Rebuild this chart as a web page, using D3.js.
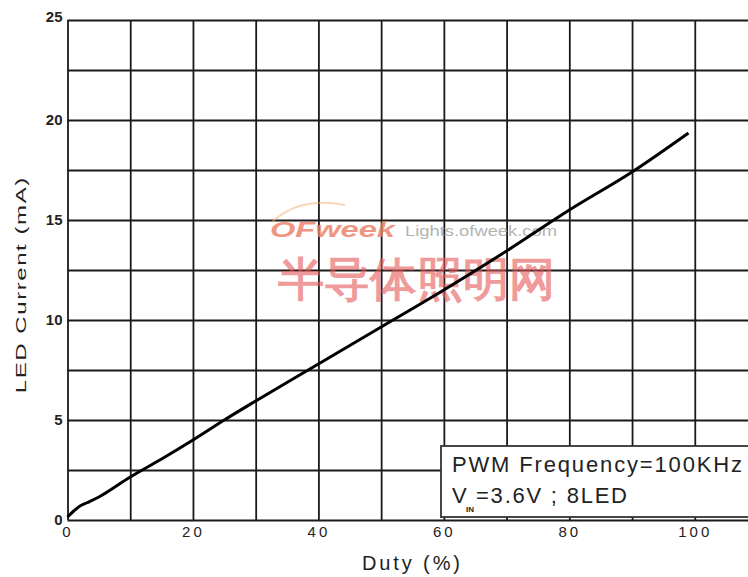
<!DOCTYPE html>
<html lang="en">
<head>
<meta charset="UTF-8">
<title>LED Current vs Duty</title>
<style>
  body { margin: 0; background: #fff; }
  svg { display: block; }
  text { font-family: Arial, "Liberation Sans", sans-serif; fill: #222; }
</style>
</head>
<body>
<svg id="chart" width="748" height="577"></svg>
<script src="https://d3js.org/d3.v7.min.js"></script>
<script>
// data
const duty = [0, 1, 2, 3, 5, 10, 15, 20, 25, 30, 40, 50, 60, 70, 80, 90, 99];
const current = [0.15, 0.45, 0.7, 0.85, 1.15, 2.15, 3.05, 4.0, 5.0, 5.95, 7.8, 9.65, 11.5, 13.45, 15.5, 17.4, 19.35];
const xTicks = [0, 20, 40, 60, 80, 100];
const yTicks = [0, 5, 10, 15, 20, 25];
const xGrid = d3.range(0, 111, 10);
const yGrid = d3.range(0, 25.1, 2.5);

const svg = d3.select("#chart");

const x = d3.scaleLinear().domain([0, 110]).range([67.5, 757.5]);
const y = d3.scaleLinear().domain([0, 25]).range([520, 20]);

// grid
const gx = svg.append("g")
  .attr("transform", "translate(0," + y(0) + ")")
  .call(d3.axisBottom(x).tickValues(xGrid).tickSize(-(y(0) - y(25))).tickFormat(""));
const gy = svg.append("g")
  .attr("transform", "translate(" + x(0) + ",0)")
  .call(d3.axisLeft(y).tickValues(yGrid).tickSize(-(x(110) - x(0))).tickFormat(""));
[gx, gy].forEach(g => {
  g.select(".domain").remove();
  g.selectAll("line").attr("stroke", "#1a1a1a").attr("stroke-width", 1.8);
});

// watermark
const wm = svg.append("g");
wm.append("path")
  .attr("d", "M 272 222 Q 300 196 345 205")
  .attr("fill", "none").attr("stroke", "#f0b070").attr("stroke-width", 2).attr("opacity", 0.5);
wm.append("text").attr("x", 270).attr("y", 237)
  .attr("font-size", 22).attr("font-weight", "bold").attr("font-style", "italic")
  .attr("textLength", 125).attr("lengthAdjust", "spacingAndGlyphs")
  .style("fill", "#ec7d63").attr("opacity", 0.8).text("OFweek");
wm.append("text").attr("x", 405).attr("y", 236)
  .attr("font-size", 15).attr("textLength", 152).attr("lengthAdjust", "spacingAndGlyphs")
  .style("fill", "#9a9a9a").attr("opacity", 0.75).text("Lights.ofweek.com");
wm.append("text").attr("x", 278).attr("y", 295)
  .attr("font-size", 46).attr("font-weight", "bold")
  .attr("font-family", "'Noto Sans CJK SC', sans-serif")
  .attr("textLength", 277).attr("lengthAdjust", "spacingAndGlyphs")
  .style("fill", "#e65a5a").attr("opacity", 0.6).text("半导体照明网");

// curve
svg.append("path")
  .datum(duty.map((d, i) => [d, current[i]]))
  .attr("fill", "none")
  .attr("stroke", "#000")
  .attr("stroke-width", 3)
  .attr("stroke-linejoin", "round")
  .attr("d", d3.line().x(d => x(d[0])).y(d => y(d[1])).curve(d3.curveMonotoneX));

// legend box
svg.append("rect")
  .attr("x", 441).attr("y", 446).attr("width", 320).attr("height", 71)
  .attr("fill", "#fff").attr("stroke", "#333").attr("stroke-width", 1.8);
svg.append("text").attr("x", 452).attr("y", 472)
  .attr("font-size", 22).attr("textLength", 290).attr("lengthAdjust", "spacing")
  .text("PWM Frequency=100KHz");
svg.append("text").attr("x", 452).attr("y", 503).attr("font-size", 22).text("V");
svg.append("text").attr("x", 466).attr("y", 512).attr("font-size", 8).attr("font-weight", "bold").text("IN");
svg.append("text").attr("x", 476).attr("y", 503)
  .attr("font-size", 22).attr("textLength", 151).attr("lengthAdjust", "spacing")
  .text("=3.6V ; 8LED");

// axes labels
const ax = svg.append("g")
  .attr("transform", "translate(0," + y(0) + ")")
  .call(d3.axisBottom(x).tickValues(xTicks).tickSize(0).tickPadding(6));
ax.select(".domain").remove();
ax.selectAll("text")
  .attr("font-size", 15).attr("letter-spacing", "3px")
  .attr("font-family", "Arial, 'Liberation Sans', sans-serif")
  .style("fill", "#222");

const ay = svg.append("g")
  .attr("transform", "translate(" + x(0) + ",0)")
  .call(d3.axisLeft(y).tickValues(yTicks).tickSize(0).tickPadding(5));
ay.select(".domain").remove();
ay.selectAll("text")
  .attr("font-size", 15).attr("font-weight", "bold")
  .attr("font-family", "Arial, 'Liberation Sans', sans-serif")
  .style("fill", "#222");
ay.selectAll(".tick").filter(d => d === 25).select("text").attr("dy", "0.1em");

// axis titles
svg.append("text")
  .attr("x", 411).attr("y", 570)
  .attr("text-anchor", "middle").attr("font-size", 20)
  .attr("textLength", 98).attr("lengthAdjust", "spacing")
  .text("Duty (%)");
svg.append("text")
  .attr("transform", "translate(26,285.5) rotate(-90) scale(1.55,1)")
  .attr("text-anchor", "middle").attr("font-size", 15.5)
  .attr("textLength", 139).attr("lengthAdjust", "spacing")
  .text("LED Current (mA)");
</script>
</body>
</html>
